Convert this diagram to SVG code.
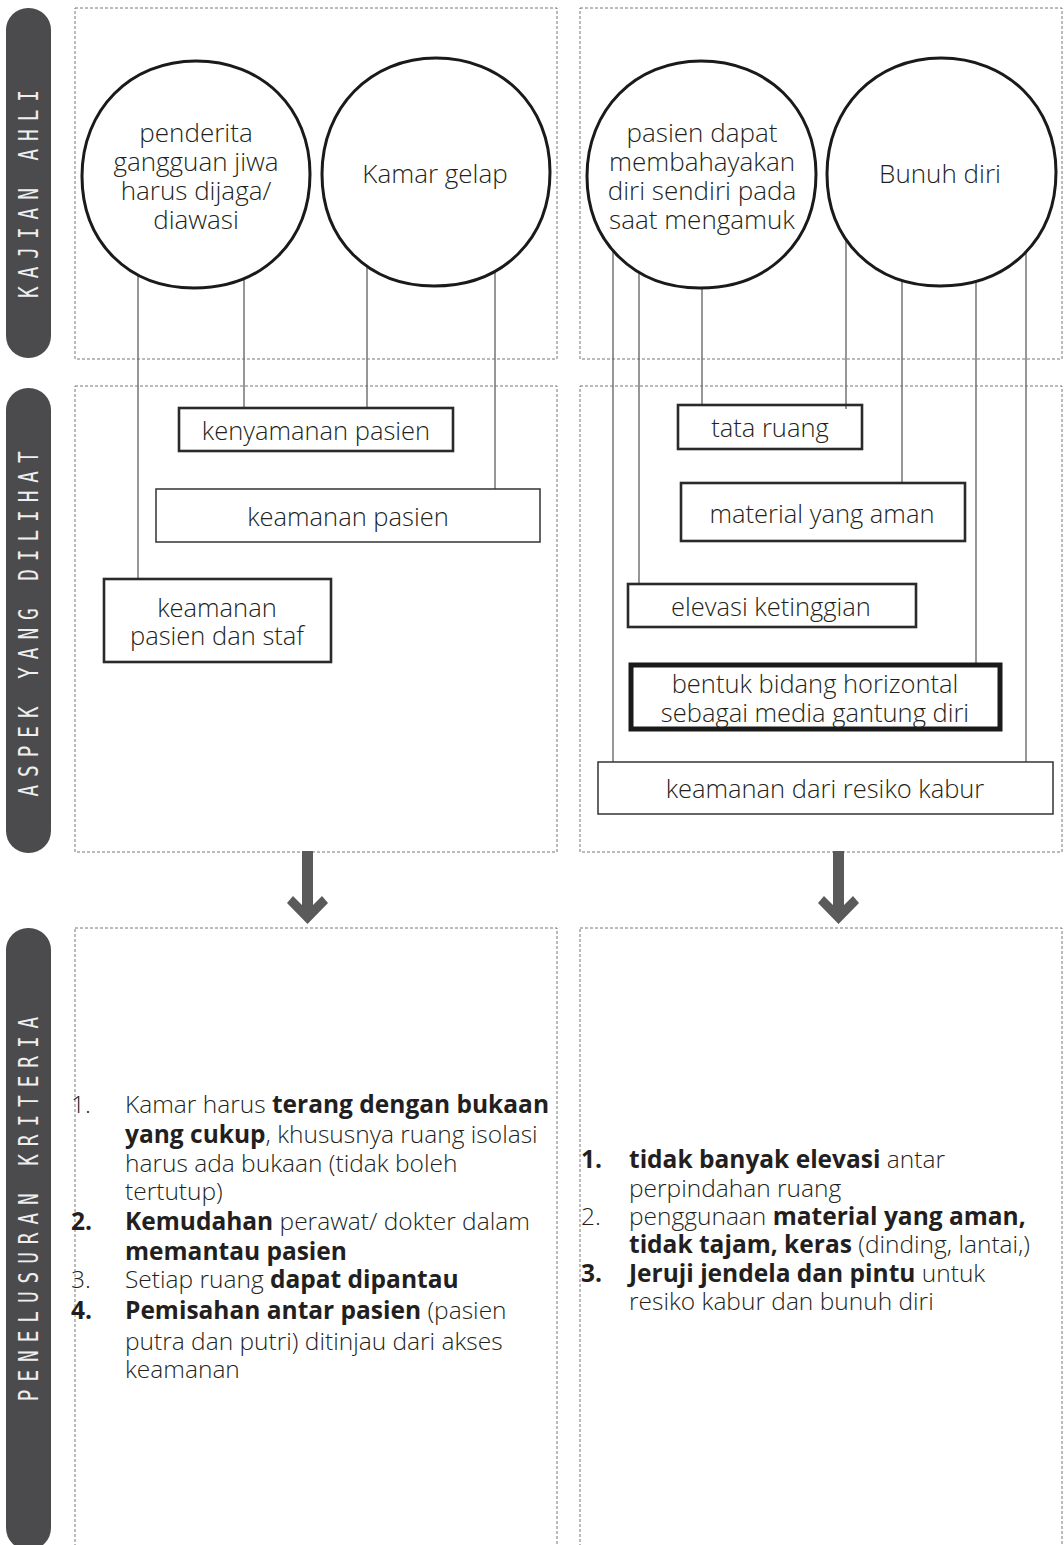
<svg xmlns="http://www.w3.org/2000/svg" width="1064" height="1545" viewBox="0 0 1064 1545">
<style>
.panel{fill:none;stroke:#777;stroke-width:1;stroke-dasharray:3 2}
.bar{fill:#4b4b4d}
.bartxt{font-family:"DejaVu Sans Mono","Liberation Mono",monospace;font-size:27px;fill:#eeeeee;text-anchor:middle}
.conn{stroke:#6a6a6a;stroke-width:1.4;fill:none}
.circ{fill:#fff;stroke:#1a1a1a;stroke-width:3}
.box1{fill:none;stroke:#333;stroke-width:1.5}
.box2{fill:none;stroke:#2a2a2a;stroke-width:2.6}
.box3{fill:none;stroke:#1a1a1a;stroke-width:5}
.t{font-family:"Open Sans","Noto Sans","Liberation Sans",sans-serif;font-weight:300;fill:#231f20}
.c{font-size:26px;text-anchor:middle}
.bx{font-size:25.5px;text-anchor:middle}
.l{font-size:24.5px}
.b{font-weight:700}
.arrow{fill:#5a5a5a}
</style>

<g id="panels">
<rect class="panel" x="75" y="8" width="482" height="351"/>
<rect class="panel" x="580" y="8" width="482" height="351"/>
<rect class="panel" x="75" y="386" width="482" height="466"/>
<rect class="panel" x="580" y="386" width="482" height="466"/>
<rect class="panel" x="75" y="928" width="482" height="640"/>
<rect class="panel" x="580" y="928" width="482" height="640"/>
</g>

<g id="bar-kajian">
<rect class="bar" x="6" y="8" width="45" height="350" rx="22"/>
<text class="bartxt" transform="translate(38,190) rotate(-90) scale(0.72,1)" letter-spacing="11">KAJIAN AHLI</text>
</g>
<g id="bar-aspek">
<rect class="bar" x="6" y="388" width="45" height="465" rx="22"/>
<text class="bartxt" transform="translate(38,620) rotate(-90) scale(0.72,1)" letter-spacing="11">ASPEK YANG DILIHAT</text>
</g>
<g id="bar-penelusuran">
<rect class="bar" x="6" y="928" width="45" height="622" rx="22"/>
<text class="bartxt" transform="translate(38,1205) rotate(-90) scale(0.72,1)" letter-spacing="11">PENELUSURAN KRITERIA</text>
</g>

<g id="connectors">
<line class="conn" x1="138" y1="276" x2="138" y2="579"/>
<line class="conn" x1="244" y1="274" x2="244" y2="408"/>
<line class="conn" x1="367" y1="266" x2="367" y2="408"/>
<line class="conn" x1="495" y1="264" x2="495" y2="489"/>
<line class="conn" x1="613" y1="248" x2="613" y2="762"/>
<line class="conn" x1="639" y1="264" x2="639" y2="584"/>
<line class="conn" x1="702" y1="285" x2="702" y2="405"/>
<line class="conn" x1="846" y1="240" x2="846" y2="409"/>
<line class="conn" x1="902" y1="275" x2="902" y2="483"/>
<line class="conn" x1="976" y1="275" x2="976" y2="663"/>
<line class="conn" x1="1026" y1="251" x2="1026" y2="762"/>
<path class="arrow" d="M302,851 L313,851 L313,905 L322,896 L328,903 L307.5,924 L287,903 L293,896 L302,905 Z"/>
<path class="arrow" d="M833,851 L844,851 L844,905 L853,896 L859,903 L838.5,924 L818,903 L824,896 L833,905 Z"/>
</g>

<g id="node-penderita">
<path class="circ" d="M196,61 C262,61 310,108 310,174 C310,240 264,288 194,288 C128,288 82,242 82,176 C82,110 130,61 196,61 Z"/>
<text class="t c" x="196"><tspan x="196" y="142">penderita</tspan><tspan x="196" y="171">gangguan jiwa</tspan><tspan x="196" y="200">harus dijaga/</tspan><tspan x="196" y="229">diawasi</tspan></text>
</g>
<g id="node-kamar">
<path class="circ" d="M436,58 C502,58 550,106 550,172 C550,238 504,286 434,286 C368,286 322,240 322,174 C322,108 370,58 436,58 Z"/>
<text class="t c" x="435" y="183">Kamar gelap</text>
</g>
<g id="node-pasien-bahaya">
<path class="circ" d="M701,61 C767,61 816,108 816,174 C816,240 770,288 700,288 C634,288 587,242 587,176 C587,110 635,61 701,61 Z"/>
<text class="t c" x="702"><tspan x="702" y="142">pasien dapat</tspan><tspan x="702" y="171">membahayakan</tspan><tspan x="702" y="200">diri sendiri pada</tspan><tspan x="702" y="229">saat mengamuk</tspan></text>
</g>
<g id="node-bunuh">
<path class="circ" d="M941,58 C1007,58 1056,106 1056,172 C1056,238 1010,286 940,286 C874,286 827,240 827,174 C827,108 875,58 941,58 Z"/>
<text class="t c" x="940" y="183">Bunuh diri</text>
</g>

<g id="node-kenyamanan">
<rect class="box2" x="179" y="408" width="274" height="43"/>
<text class="t bx" x="316" y="440">kenyamanan pasien</text>
</g>
<g id="node-keamanan-pasien">
<rect class="box1" x="156" y="489" width="384" height="53"/>
<text class="t bx" x="348" y="526">keamanan pasien</text>
</g>
<g id="node-keamanan-staf">
<rect class="box2" x="104" y="579" width="227" height="83"/>
<text class="t bx" x="217"><tspan x="217" y="617">keamanan</tspan><tspan x="217" y="645">pasien dan staf</tspan></text>
</g>
<g id="node-tata-ruang">
<rect class="box2" x="678" y="405" width="184" height="44"/>
<text class="t bx" x="770" y="437">tata ruang</text>
</g>
<g id="node-material">
<rect class="box2" x="681" y="483" width="284" height="58"/>
<text class="t bx" x="822" y="523">material yang aman</text>
</g>
<g id="node-elevasi">
<rect class="box2" x="628" y="584" width="288" height="43"/>
<text class="t bx" x="771" y="616">elevasi ketinggian</text>
</g>
<g id="node-bentuk">
<rect class="box3" x="631" y="665" width="369" height="64"/>
<text class="t bx" x="815"><tspan x="815" y="693">bentuk bidang horizontal</tspan><tspan x="815" y="722">sebagai media gantung diri</tspan></text>
</g>
<g id="node-kabur">
<rect class="box1" x="598" y="762" width="455" height="52"/>
<text class="t bx" x="825" y="798">keamanan dari resiko kabur</text>
</g>

<g id="list-left" class="t l">
<text x="71" y="1113">1.</text>
<text x="125" y="1113">Kamar harus <tspan class="b">terang dengan bukaan</tspan></text>
<text x="125" y="1143"><tspan class="b">yang cukup</tspan>, khususnya ruang isolasi</text>
<text x="125" y="1172">harus ada bukaan (tidak boleh</text>
<text x="125" y="1200">tertutup)</text>
<text x="71" y="1230" class="b">2.</text>
<text x="125" y="1230"><tspan class="b">Kemudahan</tspan> perawat/ dokter dalam</text>
<text x="125" y="1260" class="b">memantau pasien</text>
<text x="71" y="1288">3.</text>
<text x="125" y="1288">Setiap ruang <tspan class="b">dapat dipantau</tspan></text>
<text x="71" y="1319" class="b">4.</text>
<text x="125" y="1319"><tspan class="b">Pemisahan antar pasien</tspan> (pasien</text>
<text x="125" y="1350">putra dan putri) ditinjau dari akses</text>
<text x="125" y="1378">keamanan</text>
</g>

<g id="list-right" class="t l">
<text x="581" y="1168" class="b">1.</text>
<text x="629" y="1168"><tspan class="b">tidak banyak elevasi</tspan> antar</text>
<text x="629" y="1197">perpindahan ruang</text>
<text x="581" y="1225">2.</text>
<text x="629" y="1225">penggunaan <tspan class="b">material yang aman,</tspan></text>
<text x="629" y="1253"><tspan class="b">tidak tajam, keras</tspan> (dinding, lantai,)</text>
<text x="581" y="1282" class="b">3.</text>
<text x="629" y="1282"><tspan class="b">Jeruji jendela dan pintu</tspan> untuk</text>
<text x="629" y="1310">resiko kabur dan bunuh diri</text>
</g>
</svg>
